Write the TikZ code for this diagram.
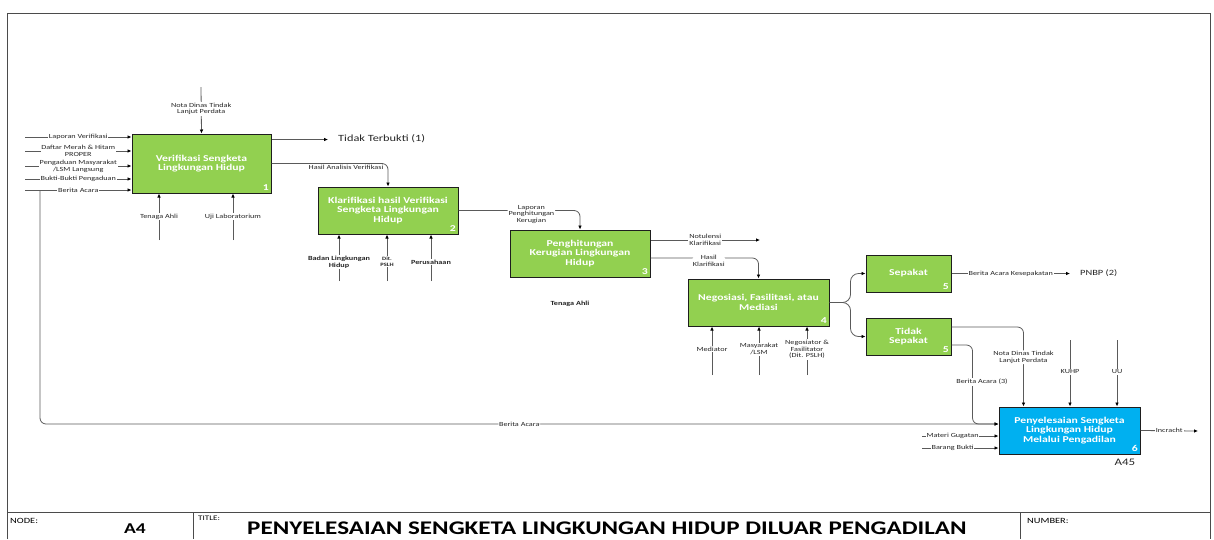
\documentclass[tikz,border=0pt]{standalone}
\usepackage{fontspec}
\setmainfont{Carlito}[FakeStretch=1.3]
\usetikzlibrary{arrows.meta,calc,positioning}
\definecolor{boxgreen}{HTML}{92D050}
\definecolor{boxblue}{HTML}{00B0F0}
\definecolor{wiregray}{HTML}{5A5A5A}
\definecolor{edgedark}{HTML}{1E1E1E}
\tikzset{
  proc/.style={draw=edgedark,line width=1pt,fill=boxgreen,text=white,
    font=\fontsize{9}{9.3}\selectfont\bfseries,align=center,inner sep=2pt},
  num/.style={anchor=south east,text=white,font=\fontsize{9}{10}\selectfont\bfseries,inner sep=2.5pt},
  wire/.style={draw=wiregray,line width=0.8pt,-{Latex[length=4pt,width=3.6pt,color=black]}},
  lbl/.style={fill=white,font=\fontsize{6.3}{6.8}\selectfont,align=center,inner sep=0.8pt,text=black!85},
  blbl/.style={lbl,font=\fontsize{6.3}{6.8}\selectfont\bfseries},
  outtxt/.style={font=\fontsize{9.5}{11}\selectfont,text=black!85,inner xsep=10pt,inner ysep=1pt},
  bartxt/.style={anchor=north west,font=\fontsize{8}{9}\selectfont,inner sep=0pt}
}
\begin{document}
\begin{tikzpicture}[x=1pt,y=-1pt]
  \useasboundingbox (0,0) rectangle (1214,539);
  % frame and title bar
  \draw[line width=0.9pt,edgedark!80] (7,539) -- (7,13) -- (1210,13) -- (1210,539);
  \draw[line width=0.9pt,edgedark!80] (7,512) -- (1210,512);
  \draw[line width=0.9pt,edgedark!80] (193,512) -- (193,539);
  \draw[line width=0.9pt,edgedark!80] (1020,512) -- (1020,539);
  \node[bartxt] at (10,518) {NODE:};
  \node[font=\fontsize{15}{17}\selectfont\bfseries] at (135,529) {A4};
  \node[bartxt,font=\fontsize{7}{8}\selectfont] at (198,516) {TITLE:};
  \node[anchor=west,font=\fontsize{19.3}{22}\selectfont\bfseries,inner sep=0pt] at (247,528)
    {PENYELESAIAN SENGKETA LINGKUNGAN HIDUP DILUAR PENGADILAN};
  \node[bartxt] at (1027,518) {NUMBER:};

  % activity boxes
  \node[proc,minimum width=139pt,minimum height=59pt] (b1) at (201.5,163.5) {Verifikasi Sengketa\\Lingkungan Hidup};
  \node[num] at (b1.south east) {1};
  \node[proc,minimum width=140pt,minimum height=47pt] (b2) at (388,210.5) {Klarifikasi hasil Verifikasi\\Sengketa Lingkungan\\Hidup};
  \node[num] at (b2.south east) {2};
  \node[proc,minimum width=140pt,minimum height=47pt] (b3) at (580,253.5) {Penghitungan\\Kerugian Lingkungan\\Hidup};
  \node[num] at (b3.south east) {3};
  \node[proc,minimum width=141pt,minimum height=47pt] (b4) at (758.5,302.5) {Negosiasi, Fasilitasi, atau\\Mediasi};
  \node[num] at (b4.south east) {4};
  \node[proc,minimum width=85pt,minimum height=37pt] (sp) at (908.5,273.5) {Sepakat};
  \node[num] at (sp.south east) {5};
  \node[proc,minimum width=85pt,minimum height=37pt] (ts) at (908.5,336.5) {Tidak\\Sepakat};
  \node[num] at (ts.south east) {5};
  \node[proc,fill=boxblue,minimum width=141pt,minimum height=47pt] (b6) at (1069.5,430.5) {Penyelesaian Sengketa\\Lingkungan Hidup\\Melalui Pengadilan};
  \node[num] at (b6.south east) {6};
  \node[anchor=north east,font=\fontsize{10}{12}\selectfont,text=black!85,inner sep=1pt] at ($(b6.south east)+(-4,3)$) {A45};

  % inputs of box 1
  \coordinate (in1) at (25,137);
  \coordinate (in2) at (25,151);
  \coordinate (in3) at (25,166);
  \coordinate (in4) at (25,179);
  \coordinate (in5) at (25,190);
  \draw[wire] (in1) -- node[lbl]{Laporan Verifikasi} (in1 -| b1.west);
  \draw[wire] (in2) -- node[lbl]{Daftar Merah \& Hitam\\PROPER} (in2 -| b1.west);
  \draw[wire] (in3) -- node[lbl]{Pengaduan Masyarakat\\/LSM Langsung} (in3 -| b1.west);
  \draw[wire] (in4) -- node[lbl]{Bukti-Bukti Pengaduan} (in4 -| b1.west);
  \draw[wire] (in5) -- node[lbl]{Berita Acara} (in5 -| b1.west);

  % control and mechanisms of box 1
  \coordinate (c1) at (201,87);
  \draw[wire] (c1) -- node[lbl,pos=0.47]{Nota Dinas Tindak\\Lanjut Perdata} (b1.north);
  \coordinate (m1a) at (159,240);
  \coordinate (m1b) at (233,240);
  \draw[wire] (m1a) -- node[lbl]{Tenaga Ahli} (m1a |- b1.south);
  \draw[wire] (m1b) -- node[lbl]{Uji Laboratorium} (m1b |- b1.south);

  % outputs of box 1
  \node[outtxt,anchor=west] (tt) at (328,139) {Tidak Terbukti (1)};
  \coordinate (t1) at ($(b1.north east)+(0,6)$);
  \draw[wire] (t1) -- (t1 -| tt.west);
  \draw[wire,rounded corners=6pt] (b1.east) -| node[lbl,below,pos=0.32,fill=none]{Hasil Analisis Verifikasi} (b2.north);

  % box 2
  \coordinate (m2a) at (339,281);
  \coordinate (m2b) at (387,281);
  \coordinate (m2c) at (431,281);
  \draw[wire] (m2a) -- node[blbl,pos=0.41]{Badan Lingkungan\\Hidup} (m2a |- b2.south);
  \draw[wire] (m2b) -- node[blbl,pos=0.41,font=\fontsize{5}{5.8}\selectfont\bfseries]{Dit.\\PSLH} (m2b |- b2.south);
  \draw[wire] (m2c) -- node[blbl,pos=0.41]{Perusahaan} (m2c |- b2.south);
  \draw[wire,rounded corners=6pt] (b2.east) -| node[lbl,pos=0.3,yshift=-4pt]{Laporan\\Penghitungan\\Kerugian} (b3.north);

  % box 3
  \coordinate (n3) at ($(b3.east)+(0,-13.5)$);
  \coordinate (n3e) at (760,240);
  \draw[wire] (n3) -- node[lbl]{Notulensi\\Klarifikasi} (n3e);
  \draw[wire,rounded corners=6pt] ($(b3.east)+(0,4.5)$) -| node[lbl,pos=0.27,yshift=-3pt]{Hasil\\Klarifikasi} (b4.north);
  \node[blbl,fill=none] at (570,304) {Tenaga Ahli};

  % box 4
  \coordinate (m4a) at (712,375);
  \coordinate (m4b) at (759,375);
  \coordinate (m4c) at (807,375);
  \draw[wire] (m4a) -- node[lbl,pos=0.53]{Mediator} (m4a |- b4.south);
  \draw[wire] (m4b) -- node[lbl,pos=0.53]{Masyarakat\\/LSM} (m4b |- b4.south);
  \draw[wire] (m4c) -- node[lbl,pos=0.53]{Negosiator \&\\Fasilitator\\(Dit. PSLH)} (m4c |- b4.south);
  \coordinate (br) at ($(b4.east)+(21,0)$);
  \draw[wire,rounded corners=8pt] (b4.east) -- (br) |- (sp.west);
  \draw[wire,rounded corners=8pt] (b4.east) -- (br) |- (ts.west);

  % sepakat
  \node[outtxt,anchor=west,font=\fontsize{8}{9}\selectfont] (pn) at (1070,273.5) {PNBP (2)};
  \draw[wire] (sp.east) -- node[lbl]{Berita Acara Kesepakatan} (pn.west);

  % tidak sepakat
  \coordinate (c6a) at ($(b6.north west)+(25,0)$);
  \draw[wire,rounded corners=6pt] ($(ts.east)+(0,-9.5)$) -| node[lbl,pos=0.69]{Nota Dinas Tindak\\Lanjut Perdata} (c6a);
  \coordinate (j6) at ($(b6.west)+(0,-6.5)$);
  \coordinate (v6) at ($(j6)+(-26,0)$);
  \draw[wire,rounded corners=6pt] ($(ts.east)+(0,8.5)$) -| (v6) -- (j6);
  \node[lbl] at (982,382) {Berita Acara (3)};

  % long return line
  \coordinate (ba) at (40,190);
  \draw[wire,rounded corners=6pt] (ba) |- node[lbl,pos=0.75]{Berita Acara} (j6);

  % box 6
  \coordinate (k6a) at (1070,340);
  \coordinate (k6b) at (1117,340);
  \draw[wire] (k6a) -- node[lbl,pos=0.48]{KUHP} (k6a |- b6.north);
  \draw[wire] (k6b) -- node[lbl,pos=0.48]{UU} (k6b |- b6.north);
  \coordinate (g6a) at (922,436);
  \coordinate (g6b) at (922,448);
  \draw[wire] (g6a) -- node[lbl,pos=0.4]{Materi Gugatan} (g6a -| b6.west);
  \draw[wire] (g6b) -- node[lbl,pos=0.4]{Barang Bukti} (g6b -| b6.west);
  \coordinate (o6) at (1198,431);
  \draw[wire] (b6.east) -- node[lbl,pos=0.5]{Incracht} (o6);
\end{tikzpicture}
\end{document}
